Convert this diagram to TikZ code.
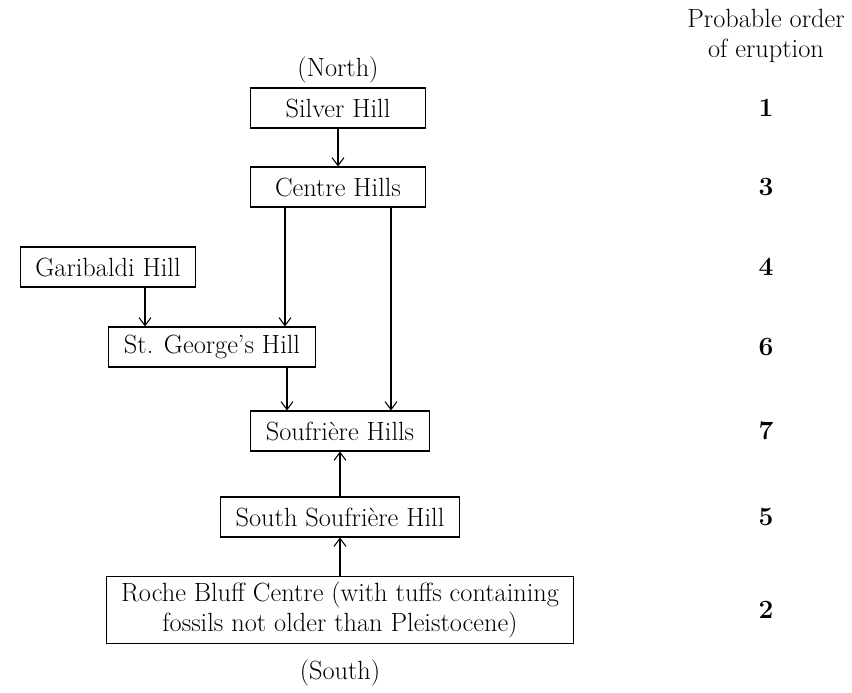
\documentclass[tikz,border=0pt]{standalone}
\usepackage{tikz}
\usetikzlibrary{positioning,arrows.meta}

\begin{document}
\begin{tikzpicture}
[x=0.02cm, y=-0.02cm, font=\fontsize{15}{17}\selectfont,
 hill/.style={draw, line width=0.6pt, minimum height=0.8cm, inner xsep=0.3cm},
 arr/.style={-{Straight Barb[length=1.6mm,width=2.4mm]}, line width=0.6pt},
 rank/.style={font=\fontsize{15}{17}\selectfont\bfseries}]
\useasboundingbox (0,0) rectangle (852,693);
% heading of the order column
\node[align=center] (head) at (766,36) {Probable order\\of eruption};
\node (north) at (338,70) {(North)};
\node[hill,minimum width=3.5cm] (silver) at (338,108) {Silver Hill};
\node[hill,minimum width=3.5cm] (centre) at (338,187) {Centre Hills};
\node[hill] (garibaldi) at (108,267) {Garibaldi Hill};
\node[hill] (george) at (212,347) {St. George's Hill};
\node[hill] (soufriere) at (340,431) {Soufri\`ere Hills};
\node[hill] (southsouf) at (340,517) {South Soufri\`ere Hill};
\node[hill,align=center] (roche) at (340,610)
  {Roche Bluff Centre (with tuffs containing\\fossils not older than Pleistocene)};
\node (south) at (340,673) {(South)};
% order numbers
\foreach \n/\r in {silver/1,centre/3,garibaldi/4,george/6,soufriere/7,southsouf/5,roche/2}
  \node[rank] (rank\r) at (\n -| head) {\r};
% arrows
\coordinate (xa) at (285,0);
\coordinate (xb) at (391,0);
\coordinate (xc) at (145,0);
\coordinate (xd) at (287,0);
\draw[arr] (silver) -- (centre);
\draw[arr] (centre.south -| xa) -- (george.north -| xa);
\draw[arr] (centre.south -| xb) -- (soufriere.north -| xb);
\draw[arr] (garibaldi.south -| xc) -- (george.north -| xc);
\draw[arr] (george.south -| xd) -- (soufriere.north -| xd);
\draw[arr] (southsouf) -- (soufriere);
\draw[arr] (roche) -- (southsouf);
\end{tikzpicture}
\end{document}
